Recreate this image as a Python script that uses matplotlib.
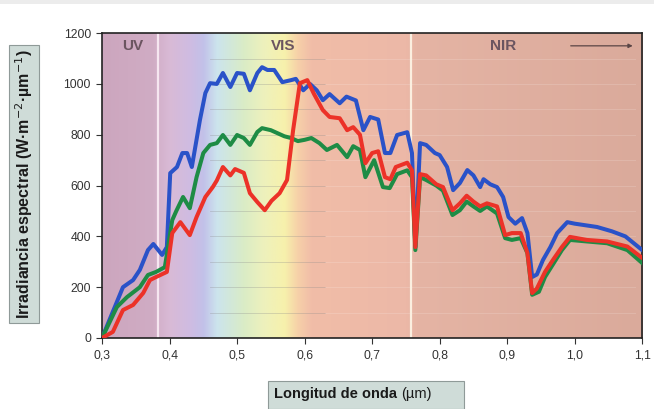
#espectro de irradiancia solar
import matplotlib
matplotlib.use('Agg')
import matplotlib.pyplot as plt
import numpy as np
from matplotlib.patches import FancyBboxPatch, Rectangle

plt.rcParams['font.family'] = ['Liberation Sans', 'DejaVu Sans']

# datos (longitud de onda en um, irradiancia en W m-2 um-1)
x_azul = [0.300, 0.331, 0.346, 0.356, 0.368, 0.376, 0.389, 0.396, 0.401, 0.411, 0.419, 0.426,
          0.433, 0.445, 0.453, 0.460, 0.470, 0.479, 0.490, 0.500, 0.510, 0.519, 0.530, 0.537,
          0.545, 0.555, 0.567, 0.580, 0.587, 0.598, 0.608, 0.618, 0.627, 0.637, 0.652, 0.662,
          0.676, 0.687, 0.697, 0.709, 0.719, 0.727, 0.737, 0.752, 0.759, 0.764, 0.771, 0.780,
          0.793, 0.800, 0.811, 0.820, 0.830, 0.841, 0.850, 0.860, 0.865, 0.875, 0.885, 0.894,
          0.902, 0.912, 0.922, 0.930, 0.937, 0.944, 0.953, 0.964, 0.974, 0.989, 1.000, 1.033,
          1.055, 1.075, 1.100]
y_azul = [0, 200, 228, 268, 346, 370, 327, 358, 649, 673, 728, 728,
          673, 858, 964, 1003, 1000, 1043, 988, 1043, 1040, 975, 1043, 1066,
          1055, 1055, 1007, 1015, 1020, 975, 1000, 975, 936, 960, 924, 950,
          935, 818, 870, 860, 728, 728, 799, 810, 728, 358, 767, 760,
          728, 720, 673, 582, 610, 661, 640, 594, 625, 605, 594, 555,
          476, 450, 472, 413, 240, 250, 307, 358, 413, 456, 450, 437,
          420, 400, 346]

x_verde = [0.300, 0.322, 0.337, 0.356, 0.368, 0.380, 0.393, 0.404, 0.410, 0.420, 0.430, 0.440,
           0.450, 0.460, 0.470, 0.479, 0.490, 0.500, 0.510, 0.519, 0.530, 0.537, 0.550, 0.560,
           0.570, 0.580, 0.590, 0.600, 0.610, 0.622, 0.633, 0.648, 0.663, 0.672, 0.682, 0.690,
           0.703, 0.716, 0.726, 0.737, 0.752, 0.759, 0.764, 0.771, 0.780, 0.795, 0.805, 0.819,
           0.830, 0.840, 0.850, 0.860, 0.870, 0.885, 0.897, 0.907, 0.920, 0.930, 0.937, 0.947,
           0.956, 0.969, 0.981, 0.993, 1.018, 1.048, 1.078, 1.100]
y_verde = [0, 122, 161, 200, 248, 260, 279, 464, 500, 555, 511, 633,
           728, 760, 767, 799, 760, 799, 787, 760, 811, 826, 818, 806,
           794, 787, 775, 780, 787, 767, 740, 760, 712, 755, 740, 633,
           700, 594, 590, 645, 660, 633, 346, 633, 622, 600, 580, 484,
           503, 537, 518, 500, 518, 490, 393, 386, 393, 334, 170, 182,
           240, 295, 346, 386, 380, 373, 346, 295]

x_rojo = [0.300, 0.316, 0.331, 0.346, 0.361, 0.371, 0.380, 0.396, 0.404, 0.416, 0.430, 0.440,
          0.453, 0.464, 0.470, 0.479, 0.490, 0.497, 0.510, 0.519, 0.530, 0.541, 0.551, 0.563,
          0.574, 0.583, 0.593, 0.604, 0.614, 0.627, 0.637, 0.652, 0.663, 0.672, 0.682, 0.690,
          0.700, 0.709, 0.719, 0.727, 0.735, 0.752, 0.759, 0.764, 0.771, 0.780, 0.795, 0.805,
          0.819, 0.830, 0.840, 0.850, 0.860, 0.870, 0.885, 0.897, 0.907, 0.920, 0.930, 0.937,
          0.944, 0.956, 0.969, 0.981, 0.993, 1.018, 1.048, 1.078, 1.100]
y_rojo = [0, 24, 110, 130, 177, 228, 240, 260, 413, 456, 405, 476,
          555, 594, 620, 673, 640, 665, 650, 570, 535, 503, 540, 570,
          622, 818, 1003, 1015, 960, 897, 870, 865, 818, 830, 800, 688,
          728, 735, 633, 625, 673, 690, 660, 358, 645, 640, 605, 594,
          503, 530, 560, 537, 518, 530, 518, 405, 413, 413, 334, 177,
          195, 260, 312, 358, 398, 386, 380, 360, 315]

x_ticks = [0.3, 0.4, 0.5, 0.6, 0.7, 0.8, 0.9, 1.0, 1.1]
x_ticklabels = ['0,3', '0,4', '0,5', '0,6', '0,7', '0,8', '0,9', '1,0', '1,1']
y_ticks = [0, 200, 400, 600, 800, 1000, 1200]

# colores del fondo (posicion en um, rgb)
fondo_pos = [0.30, 0.375, 0.40, 0.43, 0.45, 0.47, 0.49, 0.51, 0.54, 0.57, 0.59, 0.61, 0.75, 0.765, 1.10]
fondo_rgb = [(204, 166, 190), (208, 172, 196), (217, 186, 214), (207, 188, 226), (194, 193, 233),
             (204, 228, 237), (210, 232, 217), (218, 236, 198), (238, 241, 188), (247, 241, 172),
             (246, 208, 168), (241, 189, 168), (236, 184, 167), (229, 180, 164), (218, 170, 155)]

fig = plt.figure(figsize=(6.54, 4.09), dpi=100)
fig.patches.append(Rectangle((0, 0.99), 1, 0.01, transform=fig.transFigure,
                             facecolor='#ececec', edgecolor='none'))
axe = fig.add_axes([0.156, 0.1736, 0.826, 0.7454])

xx = np.linspace(0.3, 1.1, 800)
rgb = np.array(fondo_rgb) / 255.0
fila = np.stack([np.interp(xx, fondo_pos, rgb[:, k]) for k in range(3)], axis=1)
img = np.repeat(fila[np.newaxis, :, :], 2, axis=0)
axe.imshow(img, extent=[0.3, 1.1, 0, 1200], aspect='auto', origin='lower', zorder=0)

# lineas claras horizontales y verticales
for yv in range(100, 1200, 100):
    axe.plot([0.46, 0.63], [yv, yv], color='#8a8a8a', lw=0.6, alpha=0.35, zorder=1)
    axe.plot([0.63, 1.09], [yv, yv], color='white', lw=0.8, alpha=0.15, zorder=1)
axe.axvline(0.383, color='#f6e6f0', lw=1.6, zorder=1)
axe.axvline(0.758, color='#fbefe0', lw=1.6, zorder=1)

axe.plot(x_azul, y_azul, color='#2a52c8', lw=2.9, solid_joinstyle='round', zorder=3)
axe.plot(x_verde, y_verde, color='#1e8c45', lw=2.9, solid_joinstyle='round', zorder=4)
axe.plot(x_rojo, y_rojo, color='#ec3228', lw=2.9, solid_joinstyle='round', zorder=5)

axe.text(0.346, 1150, 'UV', color='#6b5560', fontsize=11, fontweight='bold', ha='center', va='center')
axe.text(0.568, 1150, 'VIS', color='#6b5560', fontsize=11, fontweight='bold', ha='center', va='center')
axe.text(0.894, 1150, 'NIR', color='#6b5560', fontsize=11, fontweight='bold', ha='center', va='center')
axe.annotate('', xy=(1.09, 1150), xytext=(0.99, 1150),
             arrowprops=dict(arrowstyle='-|>', color='#5a4545', lw=0.9, mutation_scale=6))

axe.set_xlim(0.3, 1.1)
axe.set_ylim(0, 1200)
axe.set_xticks(x_ticks)
axe.set_xticklabels(x_ticklabels)
axe.set_yticks(y_ticks)
axe.tick_params(direction='out', length=4, width=0.8, colors='#333333', labelsize=8.8, pad=4)
for s in axe.spines.values():
    s.set_color('#222222')
    s.set_linewidth(1.2)

# cajas de los titulos de ejes
caja = dict(boxstyle='square,pad=0.25', facecolor='#cfdcd8', edgecolor='#8f9a98', lw=0.8)
fig.text(0.037, 0.55, 'Irradiancia espectral (W·m$^{-2}$·µm$^{-1}$)', rotation=90,
         ha='center', va='center', fontsize=11.5, fontweight='bold', color='#1a1a1a', bbox=caja)
fig.text(0.614, 0.037, 'Longitud de onda ', ha='right', va='center', fontsize=10.5,
         fontweight='bold', color='#1a1a1a')
fig.text(0.614, 0.037, '(µm)', ha='left', va='center', fontsize=10.5, color='#1a1a1a')
fig.patches.append(FancyBboxPatch((0.41, 0.0), 0.30, 0.068, boxstyle='square,pad=0',
                                  transform=fig.transFigure, facecolor='#cfdcd8',
                                  edgecolor='#8f9a98', lw=0.8, zorder=-1))

plt.savefig('out.png', dpi=100)
